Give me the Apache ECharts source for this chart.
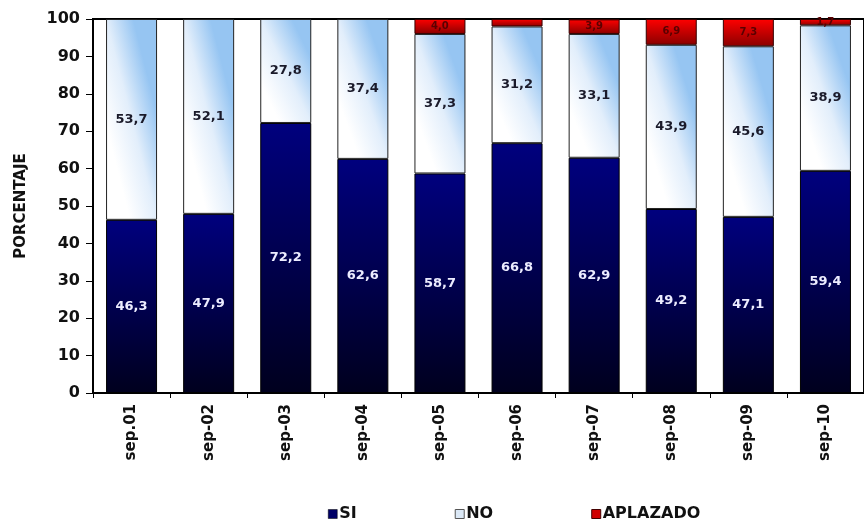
<!DOCTYPE html>
<html>
<head>
<meta charset="utf-8">
<script src="https://cdn.jsdelivr.net/npm/echarts@6/dist/echarts.min.js"></script>
<style>
  html, body { margin: 0; padding: 0; background: #fff; }
  #chart { width: 864px; height: 523px; }
</style>
</head>
<body>
<div id="chart"></div>
<script>
// Survey results per period (percent)
const categories = ['sep.01', 'sep-02', 'sep-03', 'sep-04', 'sep-05', 'sep-06', 'sep-07', 'sep-08', 'sep-09', 'sep-10'];
const siValues = [46.3, 47.9, 72.2, 62.6, 58.7, 66.8, 62.9, 49.2, 47.1, 59.4];
const noValues = [53.7, 52.1, 27.8, 37.4, 37.3, 31.2, 33.1, 43.9, 45.6, 38.9];
const aplazadoValues = [null, null, null, null, 4.0, 2.0, 3.9, 6.9, 7.3, 1.7];
const aplazadoLabelShown = [false, false, false, false, true, false, true, true, true, true];
const yTicks = [0, 10, 20, 30, 40, 50, 60, 70, 80, 90, 100];

const FONT = 'DejaVu Sans';
const BAR_W = 51;
const PLOT_H = 374;
const comma = v => v.toFixed(1).replace('.', ',');

const siFill = new echarts.graphic.LinearGradient(0, 0, 0, 1, [
  { offset: 0, color: '#00007e' },
  { offset: 1, color: '#00001e' }
]);
const redFill = new echarts.graphic.LinearGradient(0, 0, 0, 1, [
  { offset: 0, color: '#ff0000' },
  { offset: 1, color: '#8a0000' }
]);

// Diagonal sheen for the "NO" segments: white at the lower-left corner,
// light blue at the upper-right, with iso-lines along the box diagonal.
function noFill(params) {
  const h = Math.max(1, params.value / (yTicks[yTicks.length - 1] - yTicks[0]) * PLOT_H);
  const e = Math.min(0.5, (BAR_W * BAR_W) / (2 * h * h));
  return new echarts.graphic.LinearGradient(0, 0.5 + e, 1, 0.5 - e, [
    { offset: 0, color: '#ffffff' },
    { offset: 0.5, color: '#e2eefb' },
    { offset: 1, color: '#96c5f2' }
  ]);
}

const chart = echarts.init(document.getElementById('chart'), null, { renderer: 'canvas' });

chart.setOption({
  animation: false,
  backgroundColor: '#ffffff',
  grid: {
    left: 93, top: 19, width: 783, height: PLOT_H,
    show: true, borderColor: '#000', borderWidth: 2, backgroundColor: '#ffffff'
  },
  legend: {
    top: 501, left: 323,
    itemWidth: 9, itemHeight: 9, itemGap: 98,
    textStyle: { fontFamily: FONT, fontWeight: 'bold', fontSize: 16, color: '#111', padding: [0, 0, 0, -3] },
    data: [
      { name: 'SI', icon: 'rect', itemStyle: { color: '#000066', borderColor: '#000', borderWidth: 0.5 } },
      { name: 'NO', icon: 'rect', itemStyle: { color: '#dbe8f6', borderColor: '#555', borderWidth: 1 } },
      { name: 'APLAZADO', icon: 'rect', itemStyle: { color: '#d00000', borderColor: '#400', borderWidth: 1 } }
    ]
  },
  xAxis: {
    type: 'category',
    data: categories,
    axisLine: { lineStyle: { color: '#000', width: 2 } },
    axisTick: { show: true, alignWithLabel: false, length: 5, lineStyle: { color: '#000', width: 1 } },
    axisLabel: { rotate: 90, margin: 11, fontFamily: FONT, fontWeight: 'bold', fontSize: 15, color: '#111' }
  },
  yAxis: {
    type: 'value',
    min: yTicks[0], max: yTicks[yTicks.length - 1], interval: 10,
    name: 'PORCENTAJE',
    nameLocation: 'middle',
    nameGap: 64,
    nameTextStyle: { fontFamily: FONT, fontWeight: 'bold', fontSize: 15, color: '#111' },
    axisLine: { show: true, lineStyle: { color: '#000', width: 2 } },
    axisTick: { show: true, length: 7, lineStyle: { color: '#000' } },
    axisLabel: { margin: 13, fontFamily: FONT, fontWeight: 'bold', fontSize: 16, color: '#111' },
    splitLine: { show: false }
  },
  series: [
    {
      name: 'SI', type: 'bar', stack: 'total', barWidth: BAR_W,
      data: siValues,
      itemStyle: { color: siFill, borderColor: '#000', borderWidth: 1 },
      label: {
        show: true, position: 'inside', formatter: p => comma(p.value),
        fontFamily: FONT, fontWeight: 'bold', fontSize: 13, color: '#ececff'
      }
    },
    {
      name: 'NO', type: 'bar', stack: 'total', barWidth: BAR_W,
      data: noValues,
      itemStyle: { color: noFill, borderColor: '#222', borderWidth: 1 },
      label: {
        show: true, position: 'inside', formatter: p => comma(p.value),
        fontFamily: FONT, fontWeight: 'bold', fontSize: 13, color: '#1a1a2a'
      }
    },
    {
      name: 'APLAZADO', type: 'bar', stack: 'total', barWidth: BAR_W,
      data: aplazadoValues.map((v, i) => ({ value: v, label: { show: aplazadoLabelShown[i] } })),
      itemStyle: { color: redFill, borderColor: '#300', borderWidth: 1 },
      label: {
        show: true, position: 'inside', formatter: p => p.value == null ? '' : comma(p.value),
        fontFamily: FONT, fontWeight: 'bold', fontSize: 10, color: '#5a0000'
      }
    }
  ]
});
</script>
</body>
</html>
